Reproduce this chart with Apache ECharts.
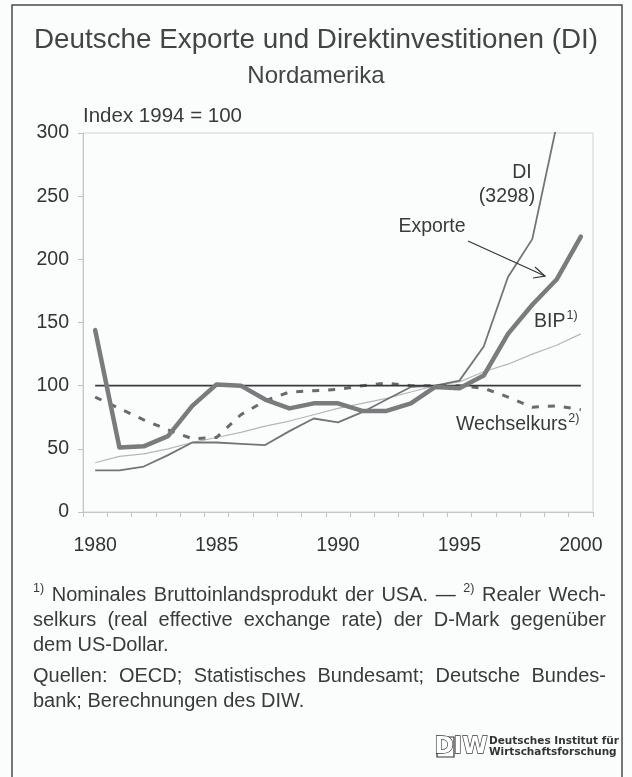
<!DOCTYPE html>
<html><head><meta charset="utf-8">
<script src="https://cdn.jsdelivr.net/npm/echarts@6/dist/echarts.min.js"></script>
<style>html,body{margin:0;padding:0;background:#fbfdfd;}#c{width:632px;height:777px;}</style>
</head><body><div id="c"></div>
<script>
// ---- data ----
const years = ['1980','1981','1982','1983','1984','1985','1986','1987','1988','1989','1990',
               '1991','1992','1993','1994','1995','1996','1997','1998','1999','2000'];
const exporte = [144,51,52,60,84,101,100,89,82,86,86,80,80,86,99,98,108,141,164,184,218];
const di      = [33,33,36,45,55,55,54,53,64,74,71,79,89,99,100,104,131,186,216,306,3298];
const bip     = [39,44,46,50,55,59,63,68,72,77,82,86,90,95,100,103,111,117,125,132,141];
const wk      = [91,82,73,65,58,59,77,88,95,96,97,100,102,100,100,100,98,91,83,84,81];
const basis   = [100,100,100,100,100,100,100,100,100,100,100,100,100,100,100,100,100,100,100,100,100];
const yTicks  = [0,50,100,150,200,250,300];

const FF = '"Liberation Sans", Arial, sans-serif';
const TXT = '#3a3a3a';
const chart = echarts.init(document.getElementById('c'), null, {renderer:'canvas'});

const mctx = document.createElement('canvas').getContext('2d');
function tw(str, font){ mctx.font = font; return mctx.measureText(str).width; }

const FN = 20;               // footnote size
const FNF = FN + 'px ' + FF;
const SUPF = '12.5px ' + FF;
const graphics = [];

function txt(str, x, y, font, opts){
  opts = opts || {};
  graphics.push({type:'text', x:x, y:y, silent:true, z:100,
    style:{text:str, font:font, fill:opts.fill||TXT, textAlign:opts.align||'left', textVerticalAlign:'middle'}});
}
function line(words, y, justify){
  const L = 33, R = 606;
  const widths = words.map(w => tw(w.t, w.sup ? SUPF : FNF));
  const sum = widths.reduce((a,b)=>a+b,0);
  const gap = justify ? (R-L-sum)/(words.length-1) : tw(' ', FNF);
  let x = L;
  words.forEach((w,i)=>{
    txt(w.t, x, w.sup ? y-6 : y, w.sup ? SUPF : FNF);
    x += widths[i] + gap;
  });
}
function W(s){ return s.split(' ').map(t=>({t:t})); }

// title block
txt('Deutsche Exporte und Direktinvestitionen (DI)', 316, 40, '27.8px '+FF, {align:'center', fill:'#444'});
txt('Nordamerika', 316, 76, '24px '+FF, {align:'center', fill:'#444'});
txt('Index 1994 = 100', 83, 116, '20.5px '+FF);

// annotations
const AF = '19.5px ' + FF;
txt('DI', 522, 173, AF, {align:'center'});
txt('(3298)', 507, 197, AF, {align:'center'});
txt('Exporte', 432, 227, AF, {align:'center'});
txt('BIP', 534, 322, AF);
txt('1)', 534 + tw('BIP', AF) + 1, 316, SUPF);
txt('Wechselkurs', 456, 425, AF);
txt('2)', 456 + tw('Wechselkurs', AF) + 1, 419, SUPF);
graphics.push({type:'line', silent:true, z:100, shape:{x1:468,y1:241,x2:545,y2:276}, style:{stroke:'#333', lineWidth:1.2}});
graphics.push({type:'polyline', silent:true, z:100, shape:{points:[[535,267],[545,276],[533,278]]}, style:{stroke:'#333', lineWidth:1.2, fill:null}});

// footnotes
line([{t:'1)',sup:true}].concat(W('Nominales Bruttoinlandsprodukt der USA. —'), [{t:'2)',sup:true}], W('Realer Wech-')), 595, true);
line(W('selkurs (real effective exchange rate) der D-Mark gegenüber'), 620, true);
line(W('dem US-Dollar.'), 645, false);
line(W('Quellen: OECD; Statistisches Bundesamt; Deutsche Bundes-'), 676, true);
line(W('bank; Berechnungen des DIW.'), 701, false);

// frame
graphics.push({type:'rect', silent:true, z:90, shape:{x:12,y:5,width:610,height:820}, style:{fill:null, stroke:'#4a4a4a', lineWidth:1.5}});

// logo
graphics.push({type:'rect', silent:true, z:100, shape:{x:437,y:737,width:17,height:20}, style:{fill:null, stroke:'#333', lineWidth:1.2}});
graphics.push({type:'text', x:461, y:747, silent:true, z:100,
  style:{text:'DIW', font:'bold 23px "DejaVu Sans", sans-serif', fill:'#fff', stroke:'#333', lineWidth:1.3, textAlign:'center', textVerticalAlign:'middle'}});
txt('Deutsches Institut für', 489, 741, 'bold 10.5px "DejaVu Sans", sans-serif', {fill:'#333'});
txt('Wirtschaftsforschung', 489, 752, 'bold 10.5px "DejaVu Sans", sans-serif', {fill:'#333'});

const option = {
  animation:false,
  backgroundColor:'#fbfdfd',
  grid:{left:83, right:39, top:133, bottom:265, show:true, borderColor:'#cfd3d4', borderWidth:1},
  xAxis:{type:'category', data:years, boundaryGap:true,
    axisLine:{lineStyle:{color:'#c4c8c9', width:1}},
    axisTick:{show:true, interval:0, length:5, lineStyle:{color:'#bfc3c4'}},
    axisLabel:{interval:4, color:'#333', fontSize:19.5, fontFamily:FF, margin:24},
    splitLine:{show:false}},
  yAxis:{type:'value', min:yTicks[0], max:yTicks[yTicks.length-1], interval:50,
    axisLine:{show:true, lineStyle:{color:'#c4c8c9', width:1}},
    axisTick:{show:true, length:5, lineStyle:{color:'#bfc3c4'}},
    axisLabel:{color:'#333', fontSize:19.5, fontFamily:FF, margin:14},
    splitLine:{show:false}},
  series:[
    {name:'BIP', type:'line', data:bip, symbol:'none', clip:true, z:2,
      lineStyle:{color:'#b4b6b8', width:1.2}},
    {name:'DI', type:'line', data:di, symbol:'none', clip:true, z:3,
      lineStyle:{color:'#747476', width:1.8}},
    {name:'Wechselkurs', type:'line', data:wk, symbol:'none', clip:true, z:4,
      lineStyle:{color:'#6a6a6c', width:3, type:[7,9]}},
    {name:'Basis', type:'line', data:basis, symbol:'none', clip:true, z:5,
      lineStyle:{color:'#3a3a3c', width:1.8}},
    {name:'Exporte', type:'line', data:exporte, symbol:'none', clip:true, z:6,
      lineStyle:{color:'#7b7a7d', width:4.5, cap:'round', join:'round'}}
  ],
  graphic:{elements:graphics}
};
chart.setOption(option);
</script></body></html>
